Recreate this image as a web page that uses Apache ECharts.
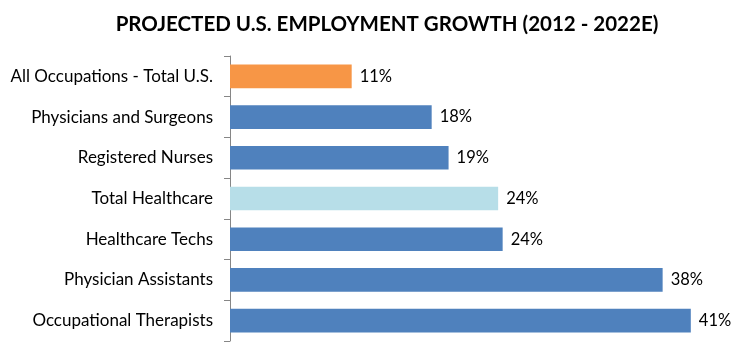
<!DOCTYPE html>
<html><head><meta charset="utf-8">
<script src="https://cdn.jsdelivr.net/npm/echarts@6/dist/echarts.min.js"></script>
<style>html,body{margin:0;padding:0;background:#fff}#c{width:753px;height:356px}</style>
</head><body><div id="c"></div>
<script>
const categories = ["All Occupations - Total U.S.","Physicians and Surgeons","Registered Nurses","Total Healthcare","Healthcare Techs","Physician Assistants","Occupational Therapists"];
const growth = [10.8, 17.9, 19.4, 23.8, 24.2, 38.4, 40.9];
const barColors = ["#F79646","#4F81BD","#4F81BD","#B7DEE8","#4F81BD","#4F81BD","#4F81BD"];

const chart = echarts.init(document.getElementById('c'));
chart.setOption({
  animation: false,
  backgroundColor: '#fff',
  title: {
    text: 'PROJECTED U.S. EMPLOYMENT GROWTH (2012 - 2022E)',
    left: 382, top: 9, textAlign: 'center',
    textStyle: {fontFamily: 'Lato', fontWeight: 'bold', fontSize: 20.5, color: '#000'}
  },
  grid: {left: 230, top: 56, bottom: 15, right: 16},
  xAxis: {type: 'value', min: 0, max: 45, show: false},
  yAxis: {
    type: 'category', data: categories, inverse: true,
    axisLine: {lineStyle: {color: '#868686', width: 1}},
    axisTick: {show: true, length: 6, lineStyle: {color: '#868686'}},
    axisLabel: {margin: 17, fontFamily: 'Lato', fontSize: 17, color: '#000'}
  },
  series: [{
    type: 'bar', barCategoryGap: '42%',
    data: growth.map((v, i) => ({value: v, itemStyle: {color: barColors[i]}})),
    label: {show: true, position: 'right', distance: 8, fontFamily: 'Lato', fontSize: 16.5, color: '#000',
      formatter: p => Math.round(p.value) + '%'}
  }]
});
</script></body></html>
